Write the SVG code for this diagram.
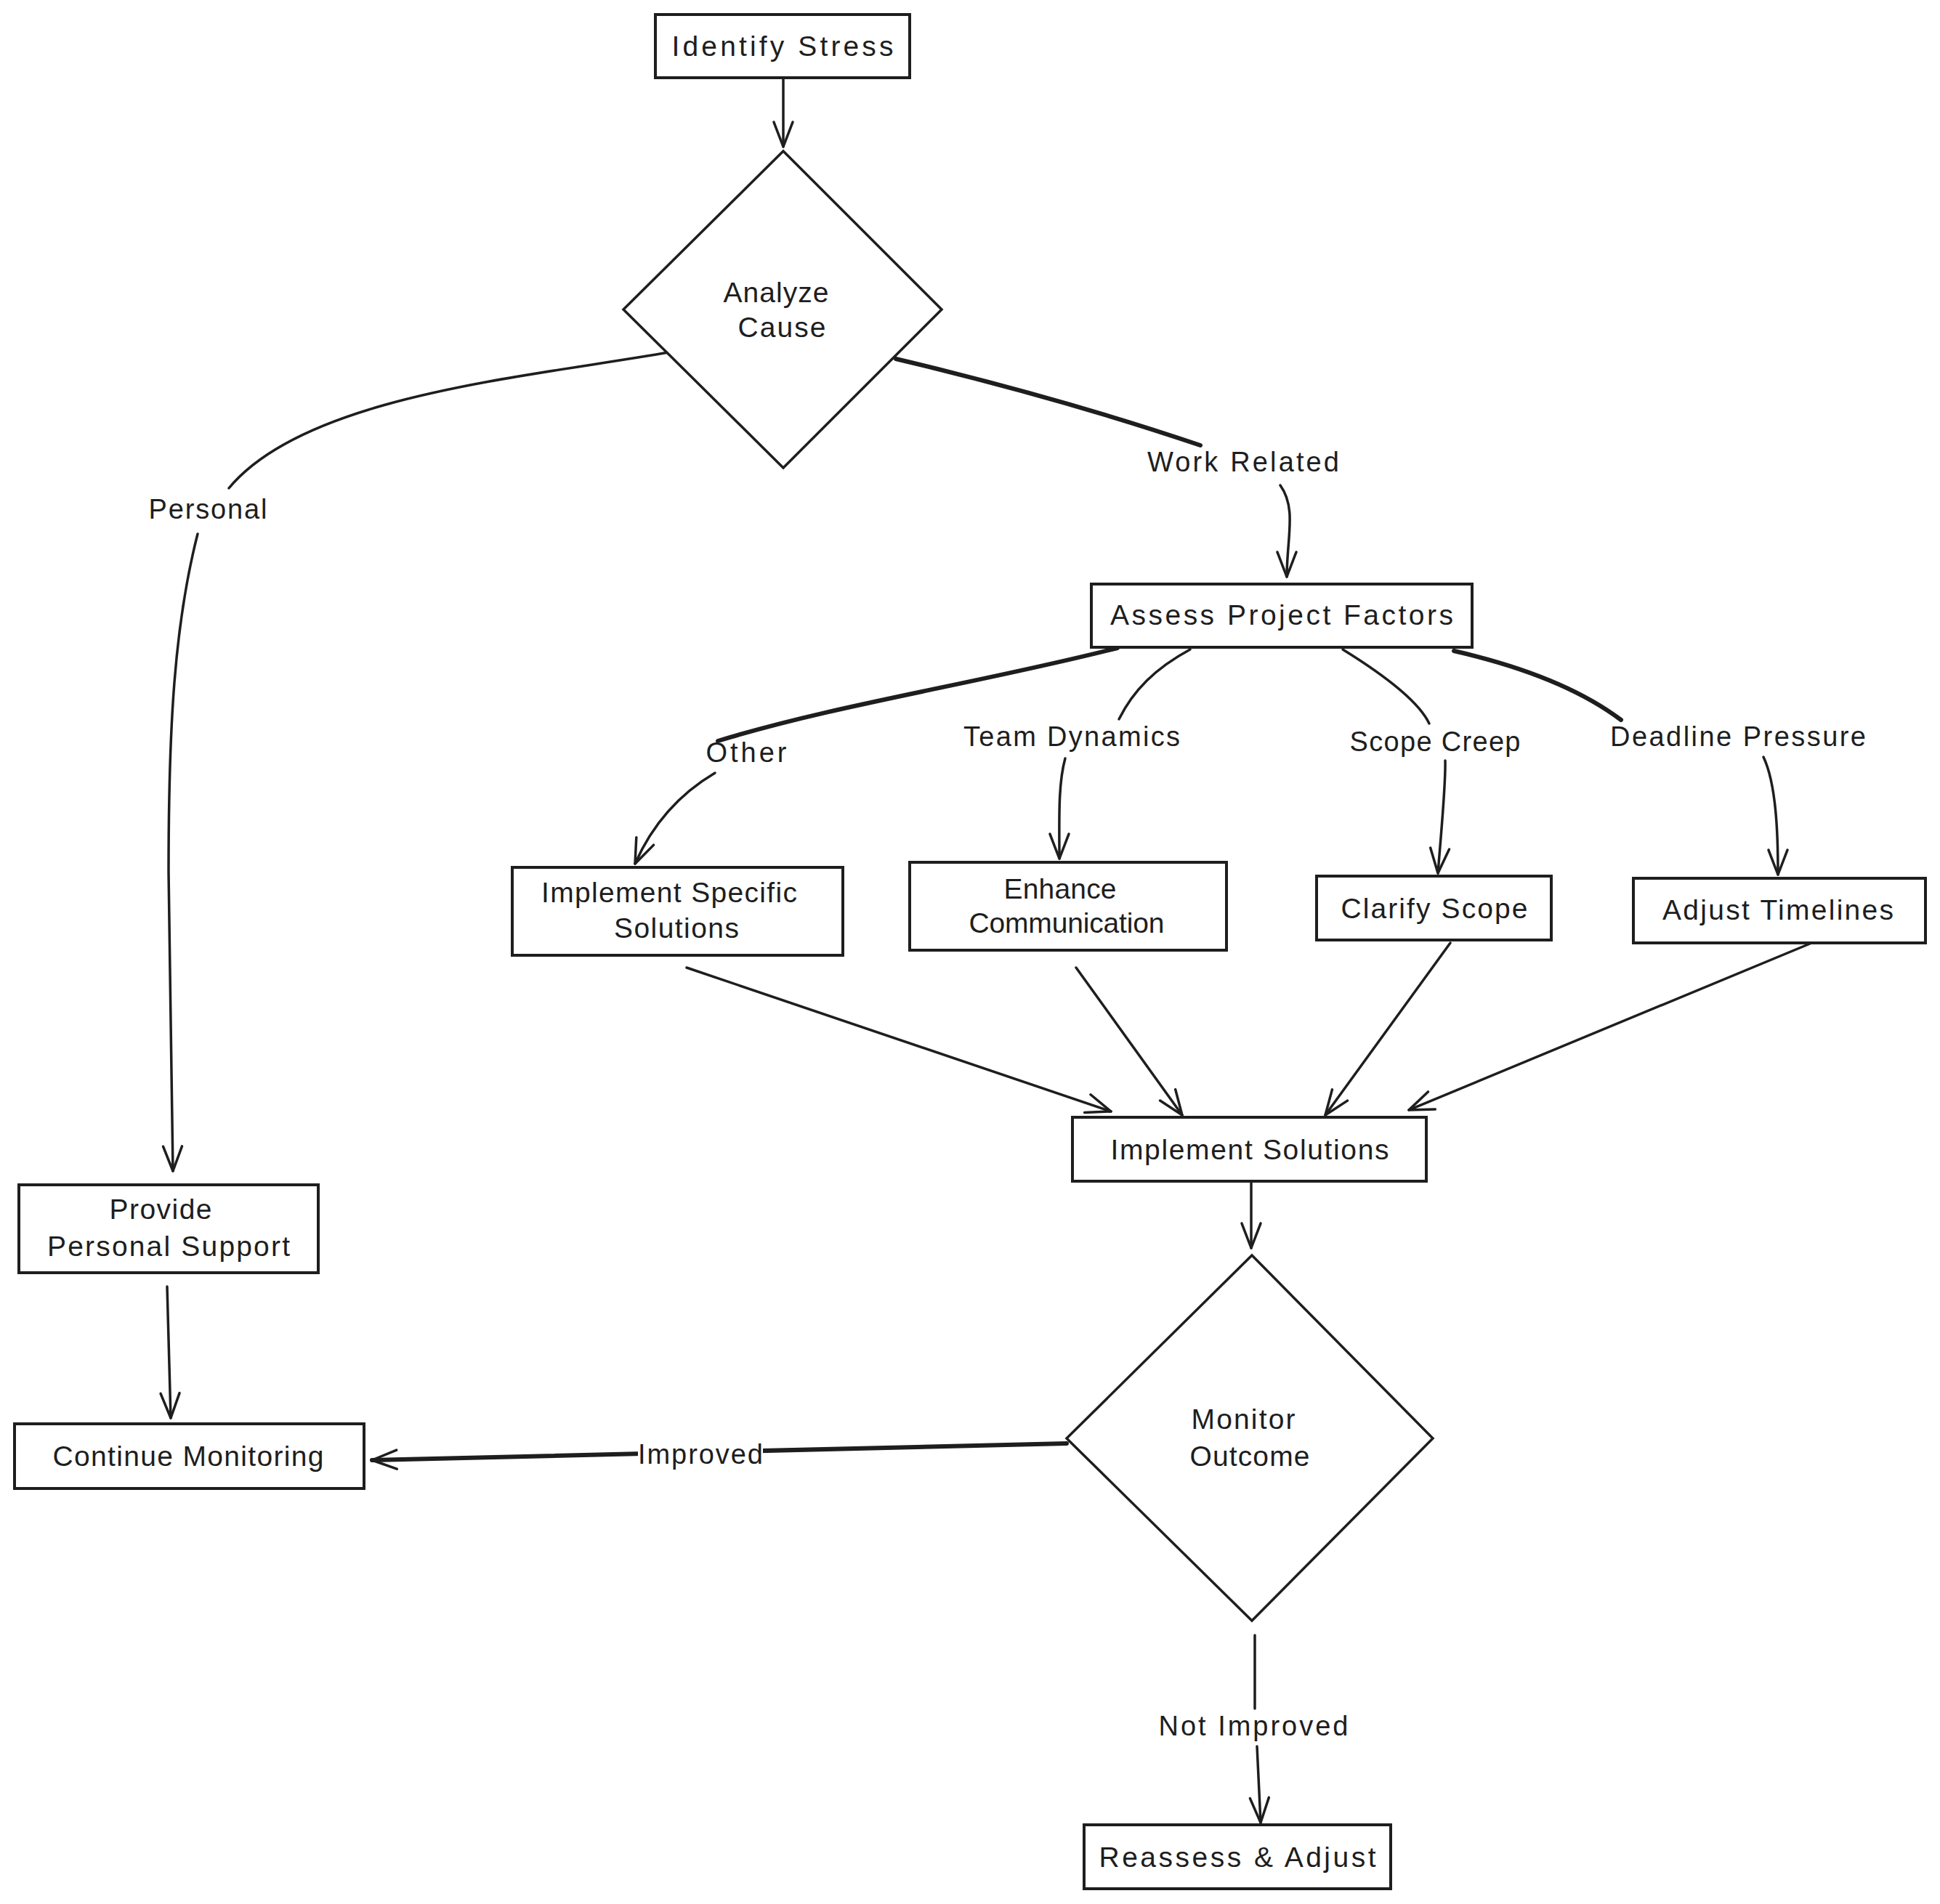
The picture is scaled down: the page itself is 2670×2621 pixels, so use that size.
<svg xmlns="http://www.w3.org/2000/svg" width="2670" height="2621" viewBox="0 0 2670 2621">
<style>
.bg{fill:#ffffff}
.box{fill:#ffffff;stroke:#1e1e1e;stroke-width:4}
.dia{fill:#ffffff;stroke:#1e1e1e;stroke-width:3.5}
.edge{fill:none;stroke:#1e1e1e;stroke-width:3.5;stroke-linecap:round}
.thick{stroke-width:6}
.t{font-family:"Liberation Sans","DejaVu Sans",sans-serif;font-size:39px;fill:#1e1e1e;text-anchor:middle}
.lbl{font-family:"Liberation Sans","DejaVu Sans",sans-serif;font-size:38px;fill:#1e1e1e;text-anchor:middle}
</style>
<defs>
<marker id="arr" markerUnits="userSpaceOnUse" markerWidth="80" markerHeight="80" refX="0" refY="0" orient="auto" overflow="visible">
<path d="M -34 -13 L 0 0 L -34 13" fill="none" stroke="#1e1e1e" stroke-width="3.5" stroke-linecap="round" stroke-linejoin="round"/>
</marker>
</defs>
<rect class="bg" x="0" y="0" width="2670" height="2621"/>

<g id="connectors">
<path class="edge" d="M 1078 107 L 1078 202" marker-end="url(#arr)"/>
<path class="edge" d="M 920 485 C 720 520, 420 545, 315 672"/>
<path class="edge" d="M 272 735 C 240 860, 232 1000, 232 1200 L 238 1612" marker-end="url(#arr)"/>
<path class="edge thick" d="M 1233 494 Q 1460 548 1652 613"/>
<path class="edge" d="M 1762 668 C 1785 700, 1771 740, 1771 794" marker-end="url(#arr)"/>
<path class="edge thick" d="M 1538 892 C 1350 940, 1150 970, 988 1020"/>
<path class="edge" d="M 984 1064 C 940 1090, 900 1130, 874 1189" marker-end="url(#arr)"/>
<path class="edge" d="M 1638 894 C 1590 920, 1560 950, 1540 990"/>
<path class="edge" d="M 1466 1044 C 1456 1080, 1458 1130, 1458 1182" marker-end="url(#arr)"/>
<path class="edge" d="M 1848 894 C 1890 920, 1950 960, 1967 996"/>
<path class="edge" d="M 1989 1047 C 1990 1080, 1983 1150, 1979 1202" marker-end="url(#arr)"/>
<path class="edge thick" d="M 2001 896 Q 2150 930 2231 991"/>
<path class="edge" d="M 2427 1042 C 2445 1080, 2447 1150, 2447 1204" marker-end="url(#arr)"/>
<path class="edge" d="M 945 1332 L 1529 1530" marker-end="url(#arr)"/>
<path class="edge" d="M 1481 1332 L 1627 1535" marker-end="url(#arr)"/>
<path class="edge" d="M 1996 1298 L 1824 1535" marker-end="url(#arr)"/>
<path class="edge" d="M 2491 1299 L 1939 1528" marker-end="url(#arr)"/>
<path class="edge" d="M 1722 1628 L 1722 1718" marker-end="url(#arr)"/>
<path class="edge thick" d="M 1468 1987 L 512 2010" marker-end="url(#arr)"/>
<path class="edge" d="M 230 1771 L 235 1952" marker-end="url(#arr)"/>
<path class="edge" d="M 1727 2251 L 1727 2352"/>
<path class="edge" d="M 1730 2404 L 1735 2509" marker-end="url(#arr)"/>
<text class="lbl" x="286" y="714" textLength="163" lengthAdjust="spacing">Personal</text>
<text class="lbl" x="1711" y="649" textLength="264" lengthAdjust="spacing">Work Related</text>
<text class="lbl" x="1027" y="1049" textLength="111" lengthAdjust="spacing">Other</text>
<text class="lbl" x="1475" y="1027" textLength="298" lengthAdjust="spacing">Team Dynamics</text>
<text class="lbl" x="1975" y="1034" textLength="235" lengthAdjust="spacing">Scope Creep</text>
<text class="lbl" x="2392" y="1027" textLength="352" lengthAdjust="spacing">Deadline Pressure</text>
<rect x="878" y="1976" width="172" height="48" fill="#ffffff"/>
<text class="lbl" x="964" y="2015" textLength="172" lengthAdjust="spacing">Improved</text>
<text class="lbl" x="1725" y="2389" textLength="261" lengthAdjust="spacing">Not Improved</text>
</g>

<g id="identify-stress">
<rect class="box" x="902" y="20" width="350" height="87"/>
<text class="t" x="1077" y="77" textLength="305" lengthAdjust="spacing">Identify Stress</text>
</g>
<g id="analyze-cause">
<polygon class="dia" points="1078,208 1296,426 1078,644 858,426"/>
<text class="t" x="1068" y="416" textLength="145" lengthAdjust="spacing">Analyze</text>
<text class="t" x="1076" y="464" textLength="121" lengthAdjust="spacing">Cause</text>
</g>
<g id="assess-project-factors">
<rect class="box" x="1502" y="804" width="524" height="87"/>
<text class="t" x="1764" y="860" textLength="472" lengthAdjust="spacing">Assess Project Factors</text>
</g>
<g id="implement-specific-solutions">
<rect class="box" x="705" y="1194" width="455" height="121"/>
<text class="t" x="921" y="1242" textLength="352" lengthAdjust="spacing">Implement Specific</text>
<text class="t" x="931" y="1291" textLength="172" lengthAdjust="spacing">Solutions</text>
</g>
<g id="enhance-communication">
<rect class="box" x="1252" y="1187" width="436" height="121"/>
<text class="t" x="1459" y="1237" textLength="155" lengthAdjust="spacing">Enhance</text>
<text class="t" x="1468" y="1284" textLength="269" lengthAdjust="spacing">Communication</text>
</g>
<g id="clarify-scope">
<rect class="box" x="1812" y="1206" width="323" height="88"/>
<text class="t" x="1974" y="1264" textLength="257" lengthAdjust="spacing">Clarify Scope</text>
</g>
<g id="adjust-timelines">
<rect class="box" x="2248" y="1209" width="402" height="89"/>
<text class="t" x="2447" y="1266" textLength="318" lengthAdjust="spacing">Adjust Timelines</text>
</g>
<g id="implement-solutions">
<rect class="box" x="1476" y="1538" width="487" height="88"/>
<text class="t" x="1720" y="1596" textLength="383" lengthAdjust="spacing">Implement Solutions</text>
</g>
<g id="provide-personal-support">
<rect class="box" x="26" y="1631" width="412" height="121"/>
<text class="t" x="221" y="1678" textLength="141" lengthAdjust="spacing">Provide</text>
<text class="t" x="232" y="1729" textLength="334" lengthAdjust="spacing">Personal Support</text>
</g>
<g id="continue-monitoring">
<rect class="box" x="20" y="1960" width="481" height="89"/>
<text class="t" x="259" y="2018" textLength="373" lengthAdjust="spacing">Continue Monitoring</text>
</g>
<g id="monitor-outcome">
<polygon class="dia" points="1723,1728 1972,1980 1723,2231 1468,1980"/>
<text class="t" x="1711" y="1967" textLength="143" lengthAdjust="spacing">Monitor</text>
<text class="t" x="1720" y="2018" textLength="165" lengthAdjust="spacing">Outcome</text>
</g>
<g id="reassess-adjust">
<rect class="box" x="1492" y="2512" width="422" height="88"/>
<text class="t" x="1703" y="2570" textLength="381" lengthAdjust="spacing">Reassess &amp; Adjust</text>
</g>
</svg>
